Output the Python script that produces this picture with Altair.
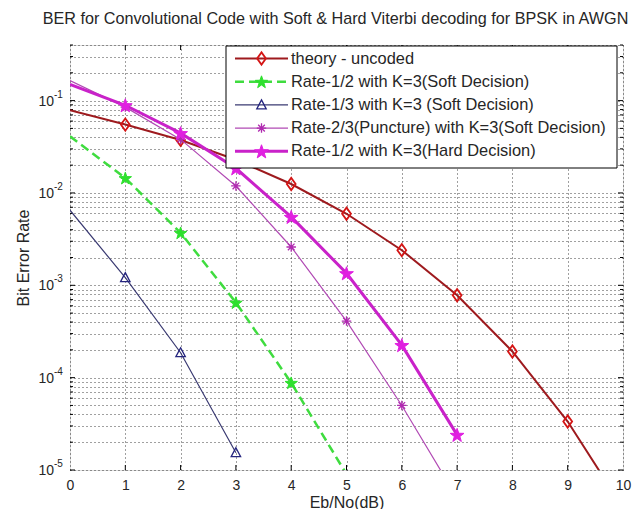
import math
import altair as alt
import pandas as pd

# ---------------- data ----------------
ebno_theory = [0, 1, 2, 3, 4, 5, 6, 7, 8, 9, 10]
ber_theory = [0.0786, 0.0550, 0.0375, 0.0229, 0.0125, 0.00595, 0.00240, 0.000780,
              0.000192, 3.35e-5, 3.9e-6]

ebno_soft12 = [0, 1, 2, 3, 4, 5]
ber_soft12 = [0.041, 0.0145, 0.0037, 0.00065, 8.8e-5, 9.0e-6]

ebno_soft13 = [0, 1, 2, 3]
ber_soft13 = [0.0065, 0.00121, 0.000186, 1.54e-5]

ebno_punct23 = [0, 1, 2, 3, 4, 5, 6, 7]
ber_punct23 = [0.165, 0.085, 0.038, 0.0119, 0.0026, 0.00041, 5.0e-5, 5.0e-6]

ebno_hard12 = [0, 1, 2, 3, 4, 5, 6, 7]
ber_hard12 = [0.150, 0.089, 0.0444, 0.0185, 0.0055, 0.00135, 0.000225, 2.4e-5]

series_names = [
    "theory - uncoded",
    "Rate-1/2 with K=3(Soft Decision)",
    "Rate-1/3 with K=3 (Soft Decision)",
    "Rate-2/3(Puncture) with K=3(Soft Decision)",
    "Rate-1/2 with K=3(Hard Decision)",
]

x_ticks = list(range(0, 11))
decades = [1e-5, 1e-4, 1e-3, 1e-2, 1e-1]
decade_exps = ["-5", "-4", "-3", "-2", "-1"]
minor_mults = [2, 3, 4, 5, 6, 7, 8, 9]

TITLE = "BER for Convolutional Code with Soft & Hard Viterbi decoding for BPSK in AWGN"
X_TITLE = "Eb/No(dB)"
Y_TITLE = "Bit Error Rate"

# ---------------- layout / style ----------------
W, H = 553, 425
YMIN, YMAX = 1e-5, 0.4
FONT = "Liberation Sans"
TXT = "#262626"


def star_path():
    pts = []
    for i in range(10):
        a = math.radians(-90 + 36 * i)
        r = 1.0 if i % 2 == 0 else 0.40
        pts.append((r * math.cos(a), r * math.sin(a) + 0.1))
    return "M" + "L".join(f"{x:.3f},{y:.3f}" for x, y in pts) + "Z"


STAR = star_path()
DIAMOND = "M0,-1L0.72,0L0,1L-0.72,0Z"
ASTER = "M0,-1L0,1M-1,0L1,0M-0.7,-0.7L0.7,0.7M-0.7,0.7L0.7,-0.7"
TRI = "M0,-0.95L0.9,0.75L-0.9,0.75Z"

minor_vals = []
for d in decades:
    minor_vals.append(d)
    for m in minor_mults:
        v = d * m
        if v <= YMAX * 1.0001:
            minor_vals.append(v)

xscale = alt.Scale(domain=[0, 10], nice=False, zero=False)
yscale = alt.Scale(type="log", domain=[YMIN, YMAX], nice=False)

X = alt.X("x:Q", scale=xscale,
          axis=alt.Axis(values=x_ticks, grid=True, ticks=False, domain=False,
                        gridDash=[1, 3], gridColor="#000", gridOpacity=0.75,
                        labelFontSize=14, labelFont=FONT, labelColor=TXT,
                        labelPadding=8, labelFlush=False,
                        title=X_TITLE, titleFont=FONT, titleFontSize=16,
                        titleFontWeight="normal", titleColor=TXT,
                        titleY=32, titleBaseline="middle"))
Y = alt.Y("y:Q", scale=yscale,
          axis=alt.Axis(values=minor_vals, grid=True, ticks=False, domain=False,
                        gridDash=[1, 3], gridColor="#000", gridOpacity=0.75,
                        labels=False,
                        title=Y_TITLE, titleFont=FONT, titleFontSize=16,
                        titleFontWeight="normal", titleColor=TXT,
                        titleX=-47, titleY=H / 2, titleBaseline="middle", titleAngle=-90))

layers = []

# inward ticks (MATLAB box style)
ymaj = pd.DataFrame({"y": decades})
ymin_df = pd.DataFrame({"y": [v for v in minor_vals if v not in decades]})
xt = pd.DataFrame({"x": x_ticks[1:-1]})
for df, ln in ((ymaj, 5), (ymin_df, 3)):
    layers.append(alt.Chart(df).mark_rule(color="#000", strokeWidth=1).encode(
        y=Y, x=alt.value(0), x2=alt.value(ln)))
    layers.append(alt.Chart(df).mark_rule(color="#000", strokeWidth=1).encode(
        y=Y, x=alt.value(W), x2=alt.value(W - ln)))
layers.append(alt.Chart(xt).mark_rule(color="#000", strokeWidth=1).encode(
    x=X, y=alt.value(H), y2=alt.value(H - 5)))
layers.append(alt.Chart(xt).mark_rule(color="#000", strokeWidth=1).encode(
    x=X, y=alt.value(0), y2=alt.value(5)))

# y tick labels as 10 with a raised exponent
ylab = pd.DataFrame({"y": decades, "e": decade_exps})
layers.append(alt.Chart(ylab).mark_text(text="10", align="right", baseline="middle",
                                        font=FONT, fontSize=14, color=TXT, dy=1).encode(
    y=Y, x=alt.value(-16)))
layers.append(alt.Chart(ylab).mark_text(align="left", baseline="middle",
                                        font=FONT, fontSize=10, color=TXT, dy=-6).encode(
    y=Y, x=alt.value(-16), text="e:N"))

styles = [
    # xs, ys, line colour, line width, dash, shape, size, filled, marker colour, marker sw
    (ebno_theory, ber_theory, "#9e1a1e", 2.0, None, DIAMOND, 150, False, "#d41515", 1.8),
    (ebno_soft12, ber_soft12, "#3fdc3f", 2.5, [9, 5], STAR, 170, True, "#2ee02e", 1.0),
    (ebno_soft13, ber_soft13, "#3a3a72", 1.2, None, TRI, 110, False, "#25257f", 1.3),
    (ebno_punct23, ber_punct23, "#b14ab4", 1.2, None, ASTER, 90, False, "#b02ab0", 1.3),
    (ebno_hard12, ber_hard12, "#c922c9", 3.0, None, STAR, 210, True, "#e020e0", 1.0),
]

for xs, ys, col, lw, dash, shape, size, filled, mcol, msw in styles:
    df = pd.DataFrame({"x": xs, "y": ys})
    kw = dict(color=col, strokeWidth=lw, clip=True)
    if dash:
        kw["strokeDash"] = dash
    layers.append(alt.Chart(df).mark_line(**kw).encode(x=X, y=Y))
    mk = df[(df.x >= 1) & (df.y >= YMIN)]
    if filled:
        pm = alt.Chart(mk).mark_point(shape=shape, size=size, filled=True, fill=mcol,
                                      stroke=mcol, strokeWidth=msw, opacity=1)
    else:
        pm = alt.Chart(mk).mark_point(shape=shape, size=size, filled=False, stroke=mcol,
                                      strokeWidth=msw, opacity=1)
    layers.append(pm.encode(x=X, y=Y))

# legend (drawn inside the plot, top right)
one = alt.Data(values=[{"a": 1}])
LX0, LX1, LY0, LY1 = 156, 547, 1, 123
layers.append(alt.Chart(one).mark_rect(fill="white", stroke="#000", strokeWidth=1).encode(
    x=alt.value(LX0), x2=alt.value(LX1), y=alt.value(LY0), y2=alt.value(LY1)))
for i, (name, st) in enumerate(zip(series_names, styles)):
    _, _, col, lw, dash, shape, size, filled, mcol, msw = st
    yy = 13.5 + 23.2 * i
    kw = dict(color=col, strokeWidth=lw)
    if dash:
        kw["strokeDash"] = dash
    layers.append(alt.Chart(one).mark_rule(**kw).encode(
        x=alt.value(165), x2=alt.value(218), y=alt.value(yy)))
    if filled:
        pm = alt.Chart(one).mark_point(shape=shape, size=size, filled=True, fill=mcol,
                                       stroke=mcol, strokeWidth=msw, opacity=1)
    else:
        pm = alt.Chart(one).mark_point(shape=shape, size=size, filled=False, stroke=mcol,
                                       strokeWidth=msw, opacity=1)
    layers.append(pm.encode(x=alt.value(191.5), y=alt.value(yy)))
    layers.append(alt.Chart(one).mark_text(text=name, align="left", baseline="middle",
                                           font=FONT, fontSize=16.4, color=TXT).encode(
        x=alt.value(221), y=alt.value(yy)))

chart = alt.layer(*layers).properties(
    width=W, height=H,
    title=alt.TitleParams(TITLE, font=FONT, fontSize=16.2, fontWeight="normal",
                          color=TXT, anchor="middle", offset=17, dx=-11),
    padding={"left": 62, "top": 37, "right": 10, "bottom": 39},
    autosize=alt.AutoSizeParams(type="none"),
).configure_view(stroke="#000", strokeWidth=1.2).configure(background="white")

chart.save("out.html", embed_options={"renderer": "svg", "actions": False})
